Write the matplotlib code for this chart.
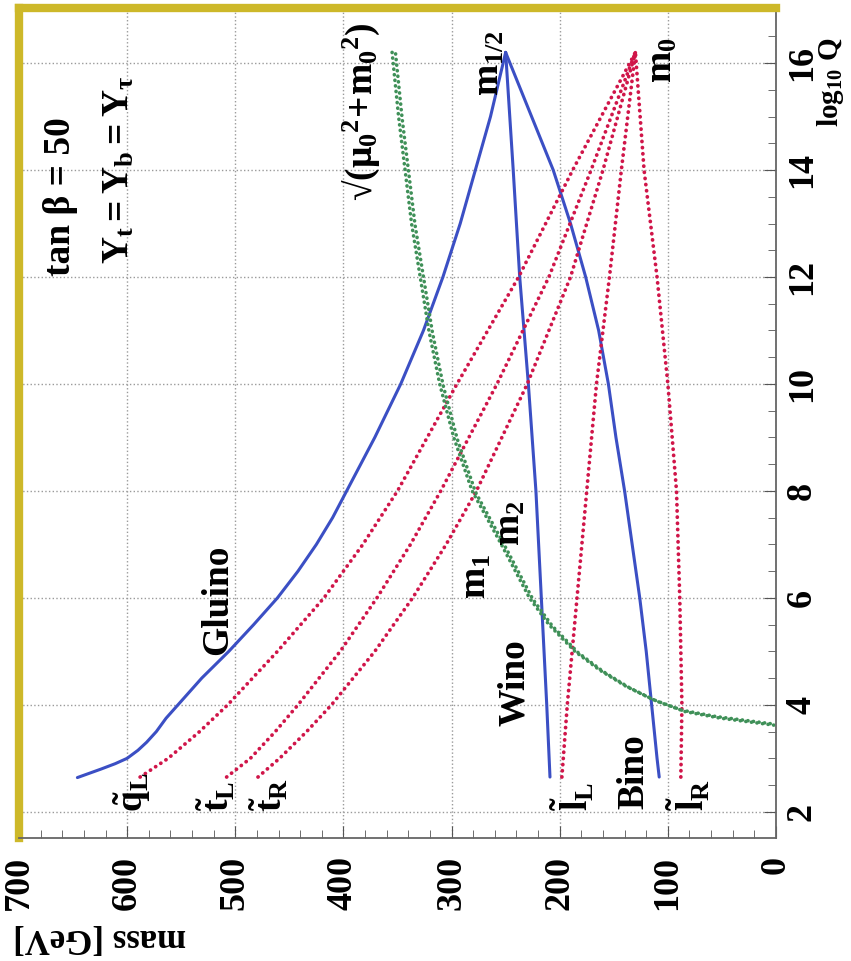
import matplotlib
matplotlib.use("Agg")
import matplotlib.pyplot as plt
from matplotlib.ticker import MultipleLocator
from matplotlib.transforms import offset_copy

plt.rcParams["font.family"] = ["Liberation Serif", "DejaVu Serif"]
plt.rcParams["font.weight"] = "bold"
plt.rcParams["mathtext.fontset"] = "custom"
plt.rcParams["mathtext.rm"] = "Liberation Serif:bold"
plt.rcParams["mathtext.it"] = "Liberation Serif:bold"
plt.rcParams["mathtext.bf"] = "Liberation Serif:bold"

# running masses (log10 Q, mass in GeV)
gluino_q = [2.64, 2.72, 2.8, 2.9, 3.0, 3.15, 3.3, 3.5, 3.75, 4.0, 4.5, 5.0, 5.5, 6.0, 6.5, 7.0, 7.5,
            8.0, 9.0, 10.0, 11.0, 12.0, 13.0, 14.0, 15.0, 16.2]
gluino_m = [646, 635, 624, 611, 600, 590, 582, 573, 564, 553, 531, 506, 483, 461, 442, 425, 410,
            397, 371, 347, 326, 308, 292, 278, 264, 250]

wino_q = [2.65, 4, 6, 8, 10, 12, 14, 16.2]
wino_m = [209, 212, 217, 222, 229, 237, 243, 250]

bino_q = [2.65, 3, 4, 5, 6, 7, 8, 9, 10, 11, 12, 13, 14, 15, 16.2]
bino_m = [108, 110, 115, 120, 126, 133, 140, 148, 155, 164, 176, 190, 206, 226, 250]

qL_q = [2.65, 3, 3.5, 4, 5, 6, 7, 8, 10, 12, 14, 16.2]
qL_m = [588, 562, 533, 507, 461, 418, 382, 350, 295, 238, 188, 130]

tL_q = [2.65, 3, 3.5, 4, 5, 6, 7, 8, 10, 12, 14, 16.2]
tL_m = [508, 486, 463, 442, 403, 369, 338, 310, 258, 210, 171, 130]

tR_q = [2.65, 3, 3.5, 4, 5, 6, 7, 8, 10, 12, 14, 16.2]
tR_m = [479, 459, 434, 411, 371, 336, 305, 277, 230, 190, 160, 130]

lL_q = [2.65, 4, 6, 8, 10, 12, 14, 16.2]
lL_m = [198, 193, 184, 175, 166, 154, 143, 130]

lR_q = [2.65, 4, 6, 8, 10, 12, 14, 16.2]
lR_m = [88, 87, 89, 92, 100, 110, 122, 130]

mu_q = [16.2, 15, 14, 13, 12, 11, 10, 9, 8, 7, 6, 5.5, 5.0, 4.65, 4.35, 4.1, 3.9, 3.78, 3.64]
mu_m = [355, 349, 343, 337, 329, 321, 311, 298, 281, 254, 228, 210, 186, 163, 139, 114, 87, 55, 2]

mass_ticks = [700, 600, 500, 400, 300, 200, 100, 0]
q_ticks = [2, 4, 6, 8, 10, 12, 14, 16]

blue = "#3b4fc4"
red = "#d01549"
green = "#3f9058"
gold = "#cdb829"

fig = plt.figure(figsize=(8.51, 9.61), dpi=100)
ax = fig.add_axes([19 / 851, 1 - 838 / 961, (776 - 19) / 851, (838 - 8) / 961])

# picture is the usual plot turned on its side: mass runs right-to-left, log10 Q upward
for q, m in [(gluino_q, gluino_m), (wino_q, wino_m), (bino_q, bino_m)]:
    ax.plot(m, q, color=blue, lw=2.2, solid_capstyle="round", solid_joinstyle="round")
for q, m in [(qL_q, qL_m), (tL_q, tL_m), (tR_q, tR_m), (lL_q, lL_m), (lR_q, lR_m)]:
    ax.plot(m, q, color=red, lw=2.7, linestyle=(0, (0.05, 1.6)), dash_capstyle="round")
# the Higgs curve is printed as a double row of dots
ax.plot(mu_m, mu_q, color=green, lw=2.6, linestyle=(0, (0.05, 1.5)), dash_capstyle="round")
ax.plot(mu_m, mu_q, color=green, lw=2.6, linestyle=(0, (0.05, 1.5)), dash_capstyle="round",
        transform=offset_copy(ax.transData, fig=fig, x=3.5, y=-1.5, units="dots"))

ax.set_xlim(700, 0)
ax.set_ylim(1.51, 17.03)
ax.set_xticks(mass_ticks)
ax.set_yticks(q_ticks)
ax.xaxis.set_minor_locator(MultipleLocator(20))
ax.yaxis.set_minor_locator(MultipleLocator(0.5))
ax.yaxis.tick_right()
ax.tick_params(axis="both", which="both", direction="in", colors="#555555", labelcolor="black",
               labelsize=26, labelrotation=90)
ax.tick_params(axis="both", which="major", length=9)
ax.tick_params(axis="both", which="minor", length=6)
ax.tick_params(axis="x", pad=13)
ax.tick_params(axis="y", pad=7, left=False, right=True)
for lab in ax.get_yticklabels():
    lab.set_va("center")
ax.grid(True, color="#9a9a9a", linestyle=":", lw=1.0)

for side in ["top", "left"]:
    ax.spines[side].set_color(gold)
    ax.spines[side].set_linewidth(6)
for side in ["right", "bottom"]:
    ax.spines[side].set_color("#666666")
    ax.spines[side].set_linewidth(1.3)

fs = 27
labels = [
    ("tan β = 50", 662, 13.5),
    (r"$Y_t = Y_b = Y_\tau$", 607, 14.0),
    (r"√$(\mu_0{}^2\!+\!m_0{}^2)$", 383, 15.1),
    (r"$m_{1/2}$", 265, 16.0),
    (r"$m_0$", 105, 16.05),
    ("Gluino", 516, 5.96),
    (r"$m_1$", 277, 6.4),
    (r"$m_2$", 246, 7.4),
    ("Wino", 242, 4.41),
    ("Bino", 131, 2.75),
    (r"$\tilde{q}_L$", 595, 2.36),
    (r"$\tilde{t}_L$", 517, 2.28),
    (r"$\tilde{t}_R$", 468, 2.32),
    (r"$\tilde{l}_L$", 188, 2.28),
    (r"$\tilde{l}_R$", 80, 2.32),
]
for txt, m, q in labels:
    ax.text(m, q, txt, rotation=90, ha="center", va="center", fontsize=fs, fontweight="bold")

fig.text(831 / 851, 1 - 82 / 961, r"$\log_{10}\,Q$", rotation=90, ha="center", va="center", fontsize=21)
fig.text(100 / 851, 1 - 938 / 961, "mass [GeV]", rotation=180, ha="center", va="center", fontsize=25)

fig.savefig("out.png", dpi=100)
